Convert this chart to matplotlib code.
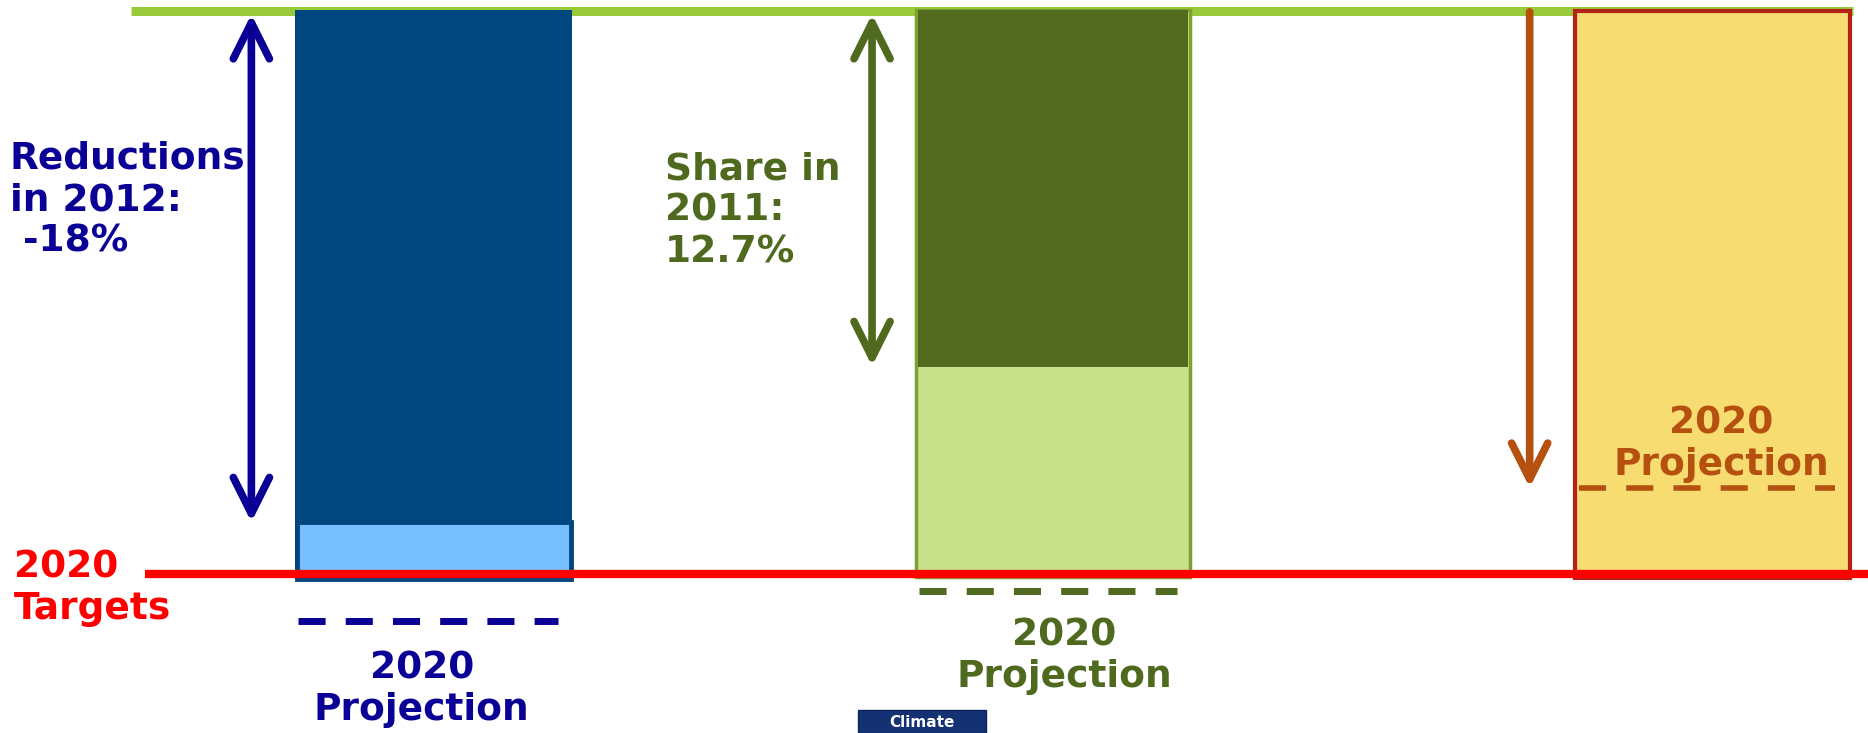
import matplotlib
matplotlib.use("Agg")
import matplotlib.pyplot as plt

plt.rcParams['lines.scale_dashes'] = False

# levels, indexed so that the 2012/2011 starting point = 100 and the 2020 target = 0
start_level = 100
target_level = 0

panels = ["ghg", "renewables", "efficiency"]
bar_bottom = [-0.85, -0.4, -0.6]
bar_top = [100.3, 100.2, 100.1]
inner_top = [9.3, 36.8, None]          # top of the lighter lower section
projection = [-8.2, -3.0, 15.4]        # dashed 2020 projection level
arrow_start = [99.5, 99.5, 99.9]
arrow_end = [9.3, 37.0, 15.4]
arrow_both = [True, True, False]

side_labels = ["Reductions\nin 2012:\n -18%", "Share in\n2011:\n12.7%", None]
proj_label = "2020\nProjection"
target_label = "2020\nTargets"
button_label = "Climate"

# layout (shown-pixel coords of the 1568x615 reference)
W, H = 1568, 615
bar_x = [364, 884, 1437.5]
bar_w = [232, 230, 231]
arrow_x = [211, 732, 1284]
dash_span = [(250, 468), (771, 988), (1325, 1540)]
side_pos = [(8, 118), (558, 127), None]
proj_pos = [(354, 546), (893, 518), (1445, 340)]

dark = ['#00467F', '#516A1E', '#F7DC72']
light = ['#78BFFF', '#C8E08A', None]
edge = ['#00467F', '#7BA22E', '#B22218']
ink = ['#0A0096', '#4F6A1E', '#B5500F']

fig = plt.figure(figsize=(18.68, 7.33), dpi=100)
ax = fig.add_axes([0, 0, 1, 1])
ax.set_xlim(0, W)
y_per_px = (start_level - target_level) / (482 - 9.5)
ax.set_ylim(target_level - (H - 482) * y_per_px, start_level + 9.5 * y_per_px)
ax.axis('off')

ax.hlines(start_level, 110, 1555, color='#9ACA3C', lw=6.5, zorder=1)
ax.hlines(target_level, 122, W, color='#FF0000', lw=6, zorder=5)

for i in range(len(panels)):
    x, w = bar_x[i], bar_w[i]
    if i == 0:
        ax.bar(x, bar_top[i] - bar_bottom[i], w, bottom=bar_bottom[i],
               color=dark[i], lw=0, zorder=2)
        ax.bar(x, inner_top[i] - bar_bottom[i], w - 2, bottom=bar_bottom[i],
               facecolor=light[i], edgecolor=edge[i], lw=3.5, zorder=3)
    elif i == 1:
        ax.bar(x, bar_top[i] - bar_bottom[i], w, bottom=bar_bottom[i],
               facecolor=light[i], edgecolor=edge[i], lw=2.5, zorder=2)
        ax.bar(x, bar_top[i] - inner_top[i], w - 3, bottom=inner_top[i],
               color=dark[i], lw=0, zorder=3)
    else:
        ax.bar(x, bar_top[i] - bar_bottom[i], w, bottom=bar_bottom[i],
               facecolor=dark[i], edgecolor=edge[i], lw=3, zorder=2)

    # projection dashed line
    x0, x1 = dash_span[i]
    ax.plot([x0, x1], [projection[i], projection[i]], color=ink[i],
            lw=5 if i < 2 else 4, dashes=(19.5, 14.5), solid_capstyle='butt',
            dash_capstyle='butt', zorder=4)

    # arrow
    style = '<->' if arrow_both[i] else '->'
    ax.annotate('', xy=(arrow_x[i], arrow_end[i]), xytext=(arrow_x[i], arrow_start[i]),
                arrowprops=dict(arrowstyle=style + ',head_length=1.3,head_width=0.65',
                                mutation_scale=20, color=ink[i], lw=5.5,
                                shrinkA=0, shrinkB=0, capstyle='round',
                                joinstyle='round'),
                zorder=4)

    if side_labels[i]:
        sx, sy = side_pos[i]
        fig.text(sx / W, 1 - sy / H, side_labels[i], color=ink[i], fontsize=27,
                 fontweight='bold', ha='left', va='top')

    px, py = proj_pos[i]
    fig.text(px / W, 1 - py / H, proj_label, color=ink[i], fontsize=27,
             fontweight='bold', ha='center', va='top', multialignment='center',
             zorder=6)

fig.text(12 / W, 1 - 461 / H, target_label, color='#FF0000', fontsize=27,
         fontweight='bold', ha='left', va='top')

# partial navigation button at the bottom edge
btn = plt.Rectangle((720 / W, 0), 108 / W, 19 / H, transform=fig.transFigure,
                    facecolor='#143173', edgecolor='#0E2458', lw=1)
fig.patches.append(btn)
fig.text(774 / W, 1 - 606 / H, button_label, color='white', fontsize=11,
         fontweight='bold', ha='center', va='center')

fig.savefig('out.png', dpi=100)
